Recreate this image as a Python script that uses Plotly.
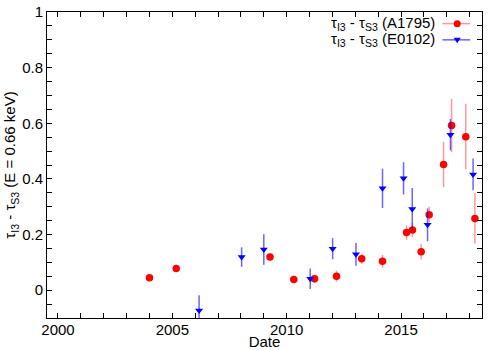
import plotly.graph_objects as go

# A1795 (red circles)
a_date = [2004.00, 2005.17, 2009.27, 2010.31, 2011.22, 2012.18, 2013.28, 2014.19,
          2015.24, 2015.50, 2015.88, 2016.23, 2016.86, 2017.21, 2017.83, 2018.23]
a_val = [0.045, 0.078, 0.119, 0.038, 0.041, 0.050, 0.113, 0.104,
         0.207, 0.216, 0.138, 0.271, 0.452, 0.592, 0.552, 0.258]
a_err = [0.006, 0.008, 0.012, 0.010, 0.015, 0.020, 0.018, 0.023,
         0.026, 0.026, 0.028, 0.029, 0.081, 0.096, 0.118, 0.090]

# E0102 (blue down-triangles)
e_date = [2006.17, 2008.03, 2009.00, 2011.03, 2012.01, 2013.03, 2014.19,
          2015.11, 2015.49, 2016.16, 2017.16, 2018.15]
e_val = [-0.073, 0.119, 0.146, 0.041, 0.149, 0.129, 0.366,
         0.402, 0.292, 0.235, 0.559, 0.416]
e_err = [0.055, 0.035, 0.055, 0.037, 0.038, 0.041, 0.071,
         0.058, 0.075, 0.059, 0.056, 0.057]

x_ticks = [2000, 2005, 2010, 2015]
y_ticks = [0, 0.2, 0.4, 0.6, 0.8, 1]

label_a = "τ<sub>I3</sub> - τ<sub>S3</sub> (A1795)"
label_e = "τ<sub>I3</sub> - τ<sub>S3</sub> (E0102)"

RED = "#ff0000"
RED_LIGHT = "rgba(255,0,0,0.4)"
BLUE = "#0000ff"
BLUE_LIGHT = "rgba(0,0,255,0.6)"
FONT = "Liberation Sans, Arial, sans-serif"
FS = 15

fig = go.Figure()
fig.add_trace(go.Scatter(
    x=a_date, y=a_val, mode="markers", name=label_a,
    marker=dict(symbol="circle", size=7.5, color=RED),
    error_y=dict(type="data", array=a_err, color=RED_LIGHT, thickness=1.5, width=0),
    showlegend=False, cliponaxis=True))
fig.add_trace(go.Scatter(
    x=e_date, y=e_val, mode="markers", name=label_e,
    marker=dict(symbol="triangle-down", size=7, color=BLUE),
    error_y=dict(type="data", array=e_err, color=BLUE_LIGHT, thickness=1.5, width=0),
    showlegend=False, cliponaxis=True))

# manual gnuplot-style key (text left of sample)
shapes = []
annotations = []
rows = [(0.962, label_a, RED, RED_LIGHT, "circle"), (0.909, label_e, BLUE, BLUE_LIGHT, "tri")]
for yk, lab, col, lcol, sym in rows:
    annotations.append(dict(x=0.897, y=yk, xref="paper", yref="paper", text=lab,
                            showarrow=False, xanchor="right", yanchor="middle",
                            font=dict(size=FS, color="black", family=FONT)))
    shapes.append(dict(type="line", xref="paper", yref="paper", x0=0.909, x1=0.973,
                       y0=yk, y1=yk, line=dict(color=lcol, width=1.5)))
    if sym == "circle":
        shapes.append(dict(type="circle", xref="paper", yref="paper",
                           xsizemode="pixel", ysizemode="pixel", xanchor=0.943, yanchor=yk,
                           x0=-3.5, x1=3.5, y0=-3.5, y1=3.5,
                           fillcolor=col, line=dict(width=0)))
    else:
        shapes.append(dict(type="path", xref="paper", yref="paper",
                           xsizemode="pixel", ysizemode="pixel", xanchor=0.943, yanchor=yk,
                           path="M -3.5,2 L 3.5,2 L 0,-3.5 Z",
                           fillcolor=col, line=dict(width=0)))

axis_common = dict(showline=True, linecolor="black", linewidth=1, mirror="ticks",
                   ticks="inside", ticklen=5, tickcolor="black", showgrid=False,
                   zeroline=False, tickfont=dict(size=FS, family=FONT, color="black"))

fig.update_layout(
    width=500, height=350,
    margin=dict(l=47, r=18, t=12, b=32),
    paper_bgcolor="white", plot_bgcolor="white",
    font=dict(family=FONT, size=FS, color="black"),
    shapes=shapes, annotations=annotations,
    xaxis=dict(range=[1999.52, 2018.54], tickvals=x_ticks, ticklabelstandoff=-2,
               minor=dict(dtick=1, tick0=2000, ticks="inside", ticklen=5, tickcolor="black"),
               title=dict(text="Date", standoff=2, font=dict(size=FS)),
               automargin=False, **axis_common),
    yaxis=dict(range=[-0.1, 1.0], tickvals=y_ticks,
               minor=dict(dtick=0.05, tick0=0, ticks="inside", ticklen=5, tickcolor="black"),
               title=dict(text="τ<sub>I3</sub> - τ<sub>S3</sub> (E = 0.66 keV)", standoff=2,
                          font=dict(size=FS)),
               automargin=False, **axis_common),
)

fig.write_html("out.html", config={"displayModeBar": False},
               post_script="document.body.style.margin='0';document.body.style.padding='0';")
